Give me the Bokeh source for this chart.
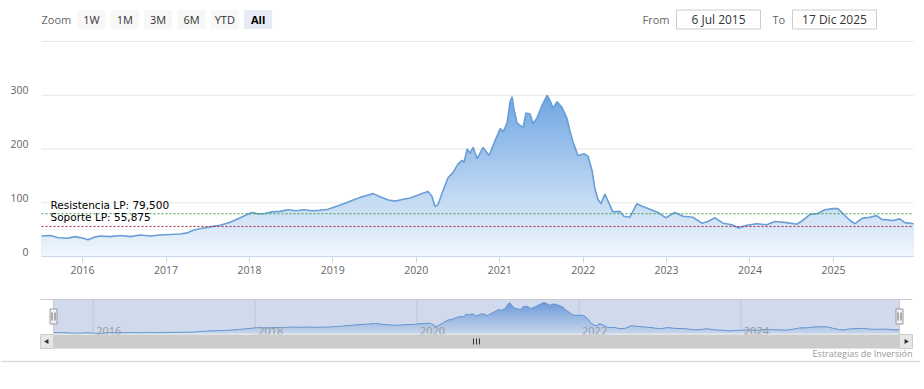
import numpy as np
import pandas as pd
from bokeh.plotting import figure
from bokeh.models import (Range1d, LinearAxis, DatetimeAxis, FixedTicker,
                          DatetimeTickFormatter, ColumnDataSource)
from bokeh.core.properties import value
from bokeh.embed import file_html
from bokeh.resources import INLINE

# ---------------- data ----------------
dates = [
    "2015-07-06", "2015-08-14", "2015-09-18", "2015-10-27", "2015-12-01", "2016-01-05", "2016-01-26",
    "2016-02-22", "2016-03-19", "2016-05-02", "2016-06-15", "2016-07-29", "2016-09-11", "2016-10-24",
    "2016-12-07", "2017-01-20", "2017-03-05", "2017-04-05", "2017-05-01", "2017-06-01", "2017-07-01",
    "2017-07-27", "2017-08-26", "2017-09-26", "2017-10-22", "2017-11-22", "2017-12-22", "2018-01-13",
    "2018-02-09", "2018-03-10", "2018-04-10", "2018-05-15", "2018-06-19", "2018-07-24", "2018-08-28",
    "2018-10-02", "2018-11-06", "2018-12-11", "2019-01-15", "2019-02-19", "2019-03-26", "2019-05-01",
    "2019-06-01", "2019-06-27", "2019-07-27", "2019-09-01", "2019-10-01", "2019-11-01", "2019-12-06",
    "2020-01-01", "2020-01-27", "2020-02-22", "2020-03-10", "2020-03-23", "2020-04-05", "2020-04-27",
    "2020-05-19", "2020-06-10", "2020-07-02", "2020-07-20", "2020-07-29", "2020-08-11", "2020-08-24",
    "2020-09-06", "2020-09-24", "2020-10-20", "2020-11-15", "2020-12-12", "2021-01-03", "2021-01-16",
    "2021-02-02", "2021-02-15", "2021-02-24", "2021-03-05", "2021-03-18", "2021-03-31", "2021-04-13",
    "2021-04-26", "2021-05-14", "2021-05-27", "2021-06-13", "2021-07-05", "2021-07-27", "2021-08-09",
    "2021-08-22", "2021-09-09", "2021-10-01", "2021-10-22", "2021-11-04", "2021-11-17", "2021-12-09",
    "2022-01-05", "2022-01-22", "2022-02-09", "2022-02-22", "2022-03-07", "2022-03-20", "2022-04-06",
    "2022-04-19", "2022-05-11", "2022-06-10", "2022-06-28", "2022-07-24", "2022-08-24", "2022-09-19",
    "2022-10-20", "2022-11-24", "2022-12-29", "2023-02-07", "2023-03-14", "2023-04-26", "2023-06-05",
    "2023-07-01", "2023-08-01", "2023-09-05", "2023-10-14", "2023-11-13", "2023-12-18", "2024-01-31",
    "2024-03-15", "2024-04-19", "2024-06-10", "2024-07-24", "2024-08-19", "2024-09-19", "2024-10-24",
    "2024-11-24", "2024-12-29", "2025-01-20", "2025-02-11", "2025-03-14", "2025-04-05", "2025-05-06",
    "2025-06-08", "2025-07-09", "2025-07-31", "2025-09-18", "2025-10-18", "2025-11-09", "2025-12-17",
]
prices = [
    38, 39, 35, 34, 37, 34, 31,
    36, 38, 37, 39, 37, 40, 38,
    40, 41, 42, 44, 49, 52, 54,
    56, 58, 62, 66, 72, 78, 82,
    79, 80, 83, 84, 87, 85, 87,
    85, 86, 88, 93, 98, 104, 110,
    114, 117, 111, 105, 103, 106, 109,
    113, 117, 121, 112, 93, 96, 122,
    146, 156, 172, 179, 175, 200, 192,
    203, 182, 203, 188, 216, 238, 232,
    248, 288, 297, 272, 248, 244, 240,
    267, 265, 247, 258, 281, 300, 290,
    276, 288, 277, 257, 234, 214, 188,
    191, 187, 160, 125, 106, 98, 116,
    104, 83, 84, 75, 73, 98, 93,
    88, 82, 72, 82, 75, 73, 62,
    65, 72, 62, 59, 53, 58, 61,
    59, 65, 63, 60, 67, 78, 80,
    87, 89, 89, 80, 67, 61, 71,
    73, 76, 69, 67, 70, 63, 61,
]
level_names = ["Resistencia LP: 79,500", "Soporte LP: 55,875"]
level_values = [79.5, 55.875]
year_ticks = list(range(2016, 2026))
nav_year_ticks = [2016, 2018, 2020, 2022, 2024]
y_ticks = [0, 100, 200, 300]
y_grid = [100, 200, 300, 400]
y_max = 400
zoom_buttons = ["1W", "1M", "3M", "6M", "YTD", "All"]
from_date = "6 Jul 2015"
to_date = "17 Dic 2025"
credit = "Estrategias de Inversión"

# ---------------- page geometry (page pixels) ----------------
W, H = 920, 366            # canvas covers page x 0..920, y 0..366
PX0, PX1, PY0, PY1 = 0, W, 0, H
PL, PR, PT, PB = 41, 913, 41, 256        # main plot area
NAV_L, NAV_R, NAV_T, NAV_B = 53, 899, 299, 333
NAV_TOP_DATA = 302

FONT = value("Open Sans")
LINE_COLOR = "#6a9fd6"
LEVEL_COLORS = ["#3f9a45", "#a82440"]
TOP_RGB = np.array([112, 166, 226])
BOT_RGB = np.array([241, 247, 253])


def grad_color(t):
    c = BOT_RGB + (TOP_RGB - BOT_RGB) * t
    return "#%02x%02x%02x" % tuple(int(round(v)) for v in c)


dt = pd.to_datetime(dates)
vals = np.array(prices, dtype=float)
x0, x1 = dt[0], dt[-1]
t0, t1 = x0.value / 1e6, x1.value / 1e6

# main scales: data -> page pixels
scm = (t1 - t0) / (PR - PL)
mx_range = Range1d(t0 - (PL - PX0) * scm, t1 + (PX1 - PR) * scm)
ppu = (PB - PT) / y_max
my_range = Range1d(-(PY1 - PB) / ppu, y_max + (PT - PY0) / ppu)
shift = 5 / ppu

p = figure(width=W, height=H, x_range=mx_range, y_range=my_range, x_axis_type="datetime",
           x_axis_location=None, y_axis_location=None, toolbar_location=None,
           output_backend="svg", min_border=0, outline_line_color=None,
           background_fill_color="white", border_fill_color="white")
p.grid.visible = False

sc = (t1 - t0) / (NAV_R - NAV_L)
vmin, vmax = vals.min(), vals.max()
sv = (vmax - vmin) / (NAV_B - NAV_TOP_DATA)
p.extra_x_ranges = {
    "px": Range1d(PX0, PX1),
    "navx": Range1d(t0 - (NAV_L - PX0) * sc, t1 + (PX1 - NAV_R) * sc),
}
p.extra_y_ranges = {
    "py": Range1d(PY1, PY0),
    "lab": Range1d(my_range.start - shift, my_range.end - shift),
    "navy": Range1d(vmin - (PY1 - NAV_B) * sv, vmax + (NAV_TOP_DATA - PY0) * sv),
}

# ---------------- header ----------------
hk = dict(x_range_name="px", y_range_name="py")
p.text(x=[41], y=[19], text=["Zoom"], text_font=FONT, text_font_size=value("11px"),
       text_color="#666666", text_baseline="middle", text_align="left", **hk)
b_left = [77 + i * 33.33 for i in range(len(zoom_buttons))]
b_fill = ["#f7f7f7"] * (len(zoom_buttons) - 1) + ["#e6ebf5"]
p.quad(left=b_left, right=[b + 28 for b in b_left], top=9.5, bottom=28.5,
       fill_color=b_fill, line_color=None, **hk)
for i, lab in enumerate(zoom_buttons):
    sel = (i == len(zoom_buttons) - 1)
    p.text(x=[b_left[i] + 14], y=[19], text=[lab], text_font=FONT,
           text_font_size=value("11px"), text_color="#000000" if sel else "#333333",
           text_font_style="bold" if sel else "normal",
           text_baseline="middle", text_align="center", **hk)
p.text(x=[642, 772], y=[19, 19], text=["From", "To"], text_font=FONT,
       text_font_size=value("11px"), text_color="#666666", text_baseline="middle",
       text_align="left", **hk)
p.quad(left=[676, 792], right=[760, 876], top=9.5, bottom=28.5, fill_color="white",
       line_color="#cccccc", line_width=1, **hk)
p.text(x=[718, 834], y=[19, 19], text=[from_date, to_date], text_font=FONT,
       text_font_size=value("12px"), text_color="#333333", text_baseline="middle",
       text_align="center", **hk)

# ---------------- main chart ----------------
p.segment(x0=x0, x1=x1, y0=y_grid, y1=y_grid, line_color="#e6e6e6", line_width=1)

step = 10.0
top_val = 300.0
n_bands = int(np.ceil(vals.max() / step))
data = {"date": dt, "price": vals}
for k in range(n_bands):
    data[f"c{k}"] = np.minimum(vals, (k + 1) * step)
src = ColumnDataSource(data)
for k in range(n_bands - 1, -1, -1):
    t = min(1.0, ((k + 0.5) * step) / top_val)
    p.varea(x="date", y1=0, y2=f"c{k}", source=src, fill_color=grad_color(t))
p.line(x="date", y="price", source=src, line_color=LINE_COLOR, line_width=1.6)

# x axis line
p.segment(x0=[x0], x1=[x1], y0=[0], y1=[0], line_color="#ccd6eb", line_width=1)

for lv, col in zip(level_values, LEVEL_COLORS):
    p.segment(x0=[x0], x1=[x1], y0=[lv], y1=[lv], line_color=col, line_dash="2 2",
              line_width=1)
p.text(x=[x0, x0], y=level_values, text=level_names, x_offset=9, y_offset=-3,
       text_baseline="bottom", text_align="left", text_font=value("DejaVu Sans"),
       text_font_size=value("10.5px"), text_color="#000000")

yax = LinearAxis(y_range_name="lab", fixed_location=t0, ticker=FixedTicker(ticks=y_ticks),
                 axis_line_color=None, major_tick_line_color=None, minor_tick_line_color=None,
                 major_tick_out=0, major_tick_in=0,
                 major_label_standoff=13, major_label_text_font="Open Sans",
                 major_label_text_font_size="10.5px", major_label_text_color="#666666")
p.add_layout(yax, "left")

xax = DatetimeAxis(fixed_location=0,
                   ticker=FixedTicker(ticks=[pd.Timestamp(f"{y}-01-01").value / 1e6
                                             for y in year_ticks]),
                   formatter=DatetimeTickFormatter(years="%Y", months="%Y", days="%Y",
                                                   hours="%Y", minutes="%Y", seconds="%Y",
                                                   milliseconds="%Y"),
                   axis_line_color=None, major_tick_line_color="#ccd6eb",
                   major_tick_in=0, major_tick_out=6, minor_tick_line_color=None,
                   major_label_standoff=3, major_label_text_font="Open Sans",
                   major_label_text_font_size="10.5px", major_label_text_color="#666666")
p.add_layout(xax, "below")

# ---------------- navigator ----------------
nav_ticks = pd.to_datetime([f"{y}-01-01" for y in nav_year_ticks])
p.segment(x0=nav_ticks, x1=nav_ticks, y0=NAV_T, y1=NAV_B, x_range_name="navx",
          y_range_name="py", line_color="#e6e6e6", line_width=1)

nsteps = 24
nstep = (vmax - vmin) / nsteps
ndata = {"date": dt, "price": vals}
for k in range(nsteps):
    ndata[f"c{k}"] = np.minimum(vals, vmin + (k + 1) * nstep)
nsrc = ColumnDataSource(ndata)
for k in range(nsteps - 1, -1, -1):
    t = (k + 0.5) / nsteps
    p.varea(x="date", y1=vmin, y2=f"c{k}", source=nsrc, fill_color=grad_color(t),
            x_range_name="navx", y_range_name="navy")
p.line(x="date", y="price", source=nsrc, line_color=LINE_COLOR, line_width=1,
       x_range_name="navx", y_range_name="navy")

p.quad(left=NAV_L, right=NAV_R, top=NAV_T, bottom=NAV_B, fill_color="#6685c2",
       fill_alpha=0.3, line_color=None, **hk)
p.segment(x0=[40, NAV_L, NAV_R], x1=[912, NAV_L, NAV_R], y0=[NAV_T, NAV_T, NAV_T],
          y1=[NAV_T, NAV_B, NAV_B], line_color="#cccccc", line_width=1, **hk)
p.text(x=nav_ticks, y=NAV_B - 2.5, text=[str(y) for y in nav_year_ticks], x_offset=3,
       x_range_name="navx", y_range_name="py", text_font=FONT,
       text_font_size=value("11px"), text_color="#999999", text_baseline="alphabetic",
       text_align="left")

# scrollbar
p.quad(left=40, right=912, top=334, bottom=348, fill_color="#f2f2f2", line_color=None, **hk)
p.quad(left=NAV_L, right=NAV_R, top=334, bottom=348, fill_color="#cccccc", line_color=None,
       **hk)
p.quad(left=[40, NAV_R], right=[NAV_L, 912], top=334, bottom=348, fill_color="#e6e6e6",
       line_color="#cccccc", line_width=1, **hk)
p.scatter(x=[46.5, 905.5], y=[341, 341], marker="triangle", size=5,
          angle=[np.pi / 2, -np.pi / 2], fill_color="#333333", line_color=None, **hk)
mid = (NAV_L + NAV_R) / 2
p.segment(x0=[mid - 3, mid, mid + 3], x1=[mid - 3, mid, mid + 3], y0=338, y1=344,
          line_color="#333333", line_width=1, **hk)

# handles
p.quad(left=[NAV_L - 3.5, NAV_R - 3.5], right=[NAV_L + 3.5, NAV_R + 3.5], top=308.5,
       bottom=323.5, fill_color="#f2f2f2", line_color="#999999", line_width=1, **hk)
p.segment(x0=[NAV_L - 1.5, NAV_L + 1.5, NAV_R - 1.5, NAV_R + 1.5],
          x1=[NAV_L - 1.5, NAV_L + 1.5, NAV_R - 1.5, NAV_R + 1.5],
          y0=312, y1=320, line_color="#666666", line_width=1, **hk)

# credit + bottom rule
p.text(x=[912], y=[353], text=[credit], text_font=FONT, text_font_size=value("9px"),
       text_color="#999999", text_baseline="middle", text_align="right", **hk)
p.segment(x0=[PX0], x1=[PX1], y0=[361], y1=[361], line_color="#dddddd", line_width=1.5,
          **hk)

open("out.html", "w").write(file_html(p, INLINE))
